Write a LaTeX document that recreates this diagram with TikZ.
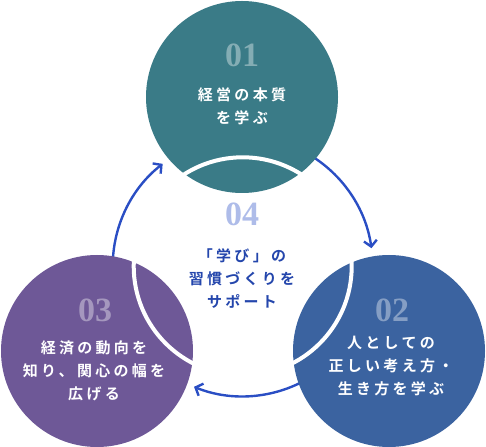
\documentclass[tikz,border=0pt]{standalone}
\usepackage{fontspec}
\newfontfamily\jp[LetterSpace=22,BoldFont={Noto Sans CJK JP Bold}]{Noto Sans CJK JP}
\newfontfamily\numfont{Liberation Serif}
\usetikzlibrary{arrows.meta}

\definecolor{tealc}{RGB}{58,123,135}
\definecolor{bluec}{RGB}{59,99,160}
\definecolor{purplec}{RGB}{110,88,151}
\definecolor{arrowc}{RGB}{42,78,196}
\definecolor{textc}{RGB}{36,70,172}

\begin{document}
\begin{tikzpicture}[
    x=1pt, y=1pt,
    stage/.style={circle, minimum size=192pt, inner sep=0pt},
    num/.style={font=\numfont\bfseries\fontsize{34}{34}\selectfont, text opacity=0.38},
    txt/.style={font=\jp\bfseries\fontsize{15}{23}\selectfont, align=center},
    flow/.style={arrowc, line width=2.4pt, -{Straight Barb[length=6pt,width=13pt]}}
]
    \useasboundingbox (0,0) rectangle (486,446);

    \coordinate (ctr) at (242.7,179.7);

    % arrows go under the circles
    \draw[flow] ([shift={(180:130pt)}]ctr) arc[start angle=180, end angle=128, radius=130pt];
    \draw[flow] ([shift={(60:130pt)}]ctr) arc[start angle=60, end angle=8, radius=130pt];
    \draw[flow] ([shift={(300:130pt)}]ctr) arc[start angle=300, end angle=248, radius=130pt];

    \node[stage, fill=tealc] (learn) at (242,349) {};
    \node[stage, fill=bluec] (mind) at (389,95) {};
    \node[stage, fill=purplec] (econ) at (97,95) {};

    \draw[white, line width=4pt] (ctr) circle (109pt);

    \node[num, text=white] (n1) at (242,391) {01};
    \node[txt, text=white] (t1) at (242,339.5) {経営の本質\\を学ぶ};

    \node[num, text=white] (n2) at (392,136) {02};
    \node[txt, text=white] (t2) at (391,80) {人としての\\正しい考え方・\\生き方を学ぶ};

    \node[num, text=white] (n3) at (95,136) {03};
    \node[txt, text=white] (t3) at (94,75) {経済の動向を\\知り、関心の幅を\\広げる};

    \node[num, text=arrowc] (n4) at (242,232) {04};
    \node[txt, text=textc] (t4) at (242,167) {「学び」の\\習慣づくりを\\サポート};

\end{tikzpicture}
\end{document}
